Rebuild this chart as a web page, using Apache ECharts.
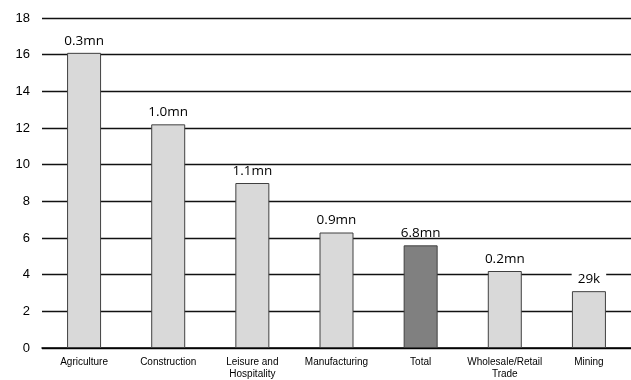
<!DOCTYPE html>
<html>
<head>
<meta charset="utf-8">
<script src="https://cdn.jsdelivr.net/npm/echarts@6/dist/echarts.min.js"></script>
<style>
html,body{margin:0;padding:0;background:#fff;}
#chart{width:631px;height:380px;}
</style>
</head>
<body>
<div id="chart"></div>
<script>
// Industry categories along the x axis
const categories = ['Agriculture', 'Construction', 'Leisure and\nHospitality', 'Manufacturing', 'Total', 'Wholesale/Retail\nTrade', 'Mining'];
// Bar heights
const values = [16.1, 12.2, 9.0, 6.3, 5.6, 4.2, 3.1];
// Text shown above each bar
const barLabels = ['0.3mn', '1.0mn', '1.1mn', '0.9mn', '6.8mn', '0.2mn', '29k'];
// Y axis range
const yMin = 0, yMax = 18, yStep = 2;

const chart = echarts.init(document.getElementById('chart'));

const data = values.map((v, i) => {
  const isTotal = categories[i] === 'Total';
  const item = {
    value: v,
    itemStyle: {
      color: isTotal ? '#808080' : '#d9d9d9',
      borderColor: '#404040',
      borderWidth: 1
    },
    label: { formatter: barLabels[i] }
  };
  if (barLabels[i] === '29k') {
    item.label.backgroundColor = '#fff';
    item.label.padding = [0, 6];
  }
  return item;
});

chart.setOption({
  animation: false,
  backgroundColor: '#fff',
  grid: { left: 42, right: 0, top: 18, bottom: 32 },
  xAxis: {
    type: 'category',
    data: categories,
    axisLine: { lineStyle: { color: '#000', width: 1.5 } },
    axisTick: { show: false },
    axisLabel: {
      fontFamily: 'Liberation Sans, Arial, sans-serif',
      fontSize: 10,
      color: '#000',
      margin: 8,
      interval: 0,
      lineHeight: 12
    }
  },
  yAxis: {
    type: 'value',
    min: yMin,
    max: yMax,
    interval: yStep,
    axisLine: { show: false },
    axisTick: { show: false },
    axisLabel: {
      fontFamily: 'Liberation Sans, Arial, sans-serif',
      fontSize: 13,
      color: '#000',
      margin: 12
    },
    splitLine: { lineStyle: { color: '#111', width: 1.4 } }
  },
  series: [{
    type: 'bar',
    data: data,
    barWidth: 34,
    label: {
      show: true,
      position: 'top',
      distance: 5,
      fontFamily: 'Open Sans, Noto Sans, sans-serif',
      fontSize: 13.5,
      color: '#000'
    }
  }]
});
</script>
</body>
</html>
